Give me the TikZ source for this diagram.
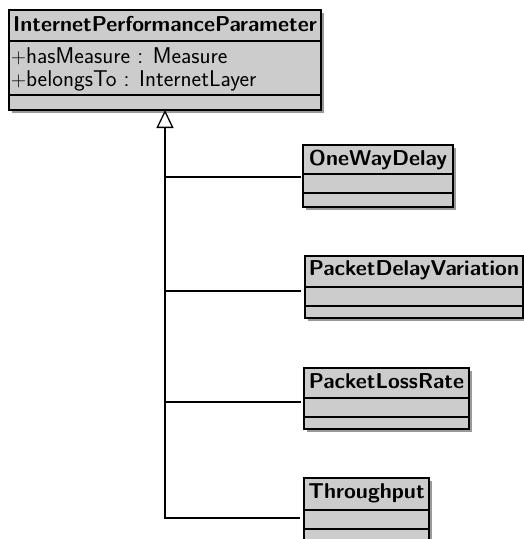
\documentclass[tikz,border=0pt]{standalone}
\usetikzlibrary{shadows,arrows.meta}
\definecolor{boxgray}{RGB}{204,204,204}
\begin{document}
\begin{tikzpicture}[x=1pt,y=-1pt,
  classbox/.style={draw=black, line width=1.6pt, fill=boxgray, inner sep=0, outer sep=0,
    drop shadow={shadow xshift=2.5pt, shadow yshift=-2.5pt, opacity=0.4, fill=black}},
  sepline/.style={line width=1.3pt},
  ctitle/.style={font=\fontsize{21.5}{25}\selectfont\sffamily\bfseries, anchor=base, inner sep=0},
  cattr/.style={font=\fontsize{22.8}{27}\selectfont\sffamily, anchor=base west, inner sep=0},
  conn/.style={line width=1.3pt},
  gen/.style={line width=1.3pt, -{Triangle[open, width=17pt, length=18pt, line width=1.3pt]}}]
\useasboundingbox (0,0) rectangle (524,539);
\clip (0,0) rectangle (524,539);
% main class
\node[classbox, minimum width=312pt, minimum height=100pt] (main) at (165,60) {};
\draw[sepline] (9,41) -- (321,41);
\draw[sepline] (9,95) -- (321,95);
\node[ctitle] (mainT) at (165,31) {InternetPerformanceParameter};
\node[cattr] (a1) at (11,63) {$+$hasMeasure : Measure};
\node[cattr] (a2) at (11,86) {$+$belongsTo : InternetLayer};
% OneWayDelay
\node[classbox, minimum width=150pt, minimum height=62pt] (ow) at (378,176) {};
\draw[sepline] (303,174) -- (453,174);
\draw[sepline] (303,193) -- (453,193);
\node[ctitle] (owT) at (378,165) {OneWayDelay};
% PacketDelayVariation
\node[classbox, minimum width=218pt, minimum height=62pt] (pdv) at (414,287) {};
\draw[sepline] (305,287) -- (523,287);
\draw[sepline] (305,306) -- (523,306);
\node[ctitle] (pdvT) at (414,275) {PacketDelayVariation};
% PacketLossRate
\node[classbox, minimum width=165pt, minimum height=61pt] (plr) at (386.5,398.5) {};
\draw[sepline] (304,398) -- (469,398);
\draw[sepline] (304,417) -- (469,417);
\node[ctitle] (plrT) at (386.5,388) {PacketLossRate};
% Throughput
\node[classbox, minimum width=125pt, minimum height=65pt] (tp) at (366.5,510.5) {};
\draw[sepline] (304,510) -- (429,510);
\draw[sepline] (304,529) -- (429,529);
\node[ctitle] (tpT) at (366.5,498) {Throughput};
% connectors
\coordinate (c1) at (165,177);
\coordinate (c2) at (165,291);
\coordinate (c3) at (165,402);
\coordinate (c4) at (165,518);
\draw[gen] (c4) -- (main.south);
\draw[conn] (c1) -- ([xshift=-2.5pt]c1 -| ow.west);
\draw[conn] (c2) -- ([xshift=-4pt]c2 -| pdv.west);
\draw[conn] (c3) -- ([xshift=-3.5pt]c3 -| plr.west);
\draw[conn] ([xshift=-0.65pt]c4) -- ([xshift=-4pt]c4 -| tp.west);
\end{tikzpicture}
\end{document}
